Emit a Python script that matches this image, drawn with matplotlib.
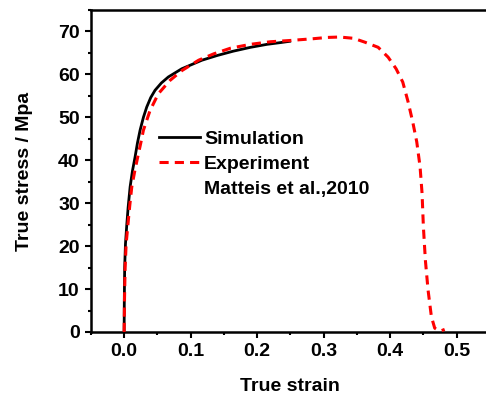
import matplotlib
matplotlib.use("Agg")
import matplotlib.pyplot as plt
from matplotlib.lines import Line2D
from matplotlib.ticker import MultipleLocator

plt.rcParams['font.family'] = ['Liberation Sans', 'DejaVu Sans']
plt.rcParams['font.weight'] = 'bold'

# simulation curve (true strain, true stress)
simStrain = [0.0, 0.0003, 0.0008, 0.002, 0.004, 0.006, 0.009, 0.0125, 0.0165, 0.020,
             0.024, 0.029, 0.034, 0.040, 0.0465, 0.056, 0.0665, 0.0866, 0.117, 0.14,
             0.164, 0.19, 0.215, 0.235, 0.249]
simStress = [0.0, 8.0, 15.0, 20.5, 25.0, 29.0, 33.8, 37.5, 40.8, 44.0,
             47.0, 50.0, 52.4, 54.6, 56.3, 58.0, 59.4, 61.3, 63.3, 64.4,
             65.4, 66.3, 67.0, 67.4, 67.7]

# experiment, Matteis et al. 2010
expStrain = [0.0, 0.0006, 0.0015, 0.003, 0.006, 0.0085, 0.0115, 0.016, 0.0205, 0.025,
             0.029, 0.039, 0.0515, 0.069, 0.087, 0.112, 0.135, 0.16, 0.19, 0.22,
             0.25, 0.284, 0.305, 0.324, 0.345, 0.362, 0.382, 0.397, 0.409, 0.419,
             0.427, 0.434, 0.440, 0.445, 0.448, 0.450, 0.453, 0.457, 0.462, 0.467,
             0.472, 0.477, 0.482]
expStress = [0.0, 8.0, 15.0, 20.5, 25.5, 29.5, 33.8, 37.5, 40.8, 44.0,
             47.0, 51.6, 55.5, 58.6, 60.9, 63.3, 64.8, 66.1, 67.0, 67.6,
             67.9, 68.3, 68.6, 68.7, 68.4, 67.5, 66.3, 64.0, 61.3, 58.2,
             53.6, 48.9, 44.3, 38.5, 32.3, 24.5, 16.7, 9.8, 3.6, 0.9,
             0.4, 0.3, 0.6]

fig = plt.figure(figsize=(4.86, 3.99), dpi=100)
ax = fig.add_axes([0.187, 0.168, 0.821, 0.807])

ax.plot(simStrain, simStress, color='black', lw=2.0, label='Simulation', zorder=2)
ax.plot(expStrain, expStress, color='#ff0000', lw=2.2, ls=(0, (3, 2)), label='Experiment', zorder=3)

ax.set_xlim(-0.05, 0.55)
ax.set_ylim(0, 75)
ax.xaxis.set_major_locator(MultipleLocator(0.1))
ax.xaxis.set_minor_locator(MultipleLocator(0.05))
ax.yaxis.set_major_locator(MultipleLocator(10))
ax.yaxis.set_minor_locator(MultipleLocator(5))
ax.set_xticks([0.0, 0.1, 0.2, 0.3, 0.4, 0.5])
ax.set_xticklabels(['0.0', '0.1', '0.2', '0.3', '0.4', '0.5'])
ax.tick_params(which='major', direction='out', length=4, width=1.5, labelsize=14, pad=4)
ax.tick_params(which='minor', direction='out', length=2.5, width=1.5)
for s in ax.spines.values():
    s.set_linewidth(1.8)

ax.set_xlabel('True strain', fontsize=14, fontweight='bold', labelpad=13)
ax.set_ylabel('True stress / Mpa', fontsize=14, fontweight='bold', labelpad=18)

handles = [Line2D([], [], color='black', lw=2.0),
           Line2D([], [], color='#ff0000', lw=2.2, ls=(0, (3, 2))),
           Line2D([], [], color='none')]
labels = ['Simulation', 'Experiment', 'Matteis et al.,2010']
ax.legend(handles, labels, loc='upper left', bbox_to_anchor=(159 / 486, 1 - 130 / 399),
          bbox_transform=fig.transFigure, frameon=False,
          handlelength=2.1, handletextpad=0.22, labelspacing=0.4,
          borderpad=0, borderaxespad=0, prop={'weight': 'bold', 'size': 14})

fig.savefig('out.png', dpi=100)
